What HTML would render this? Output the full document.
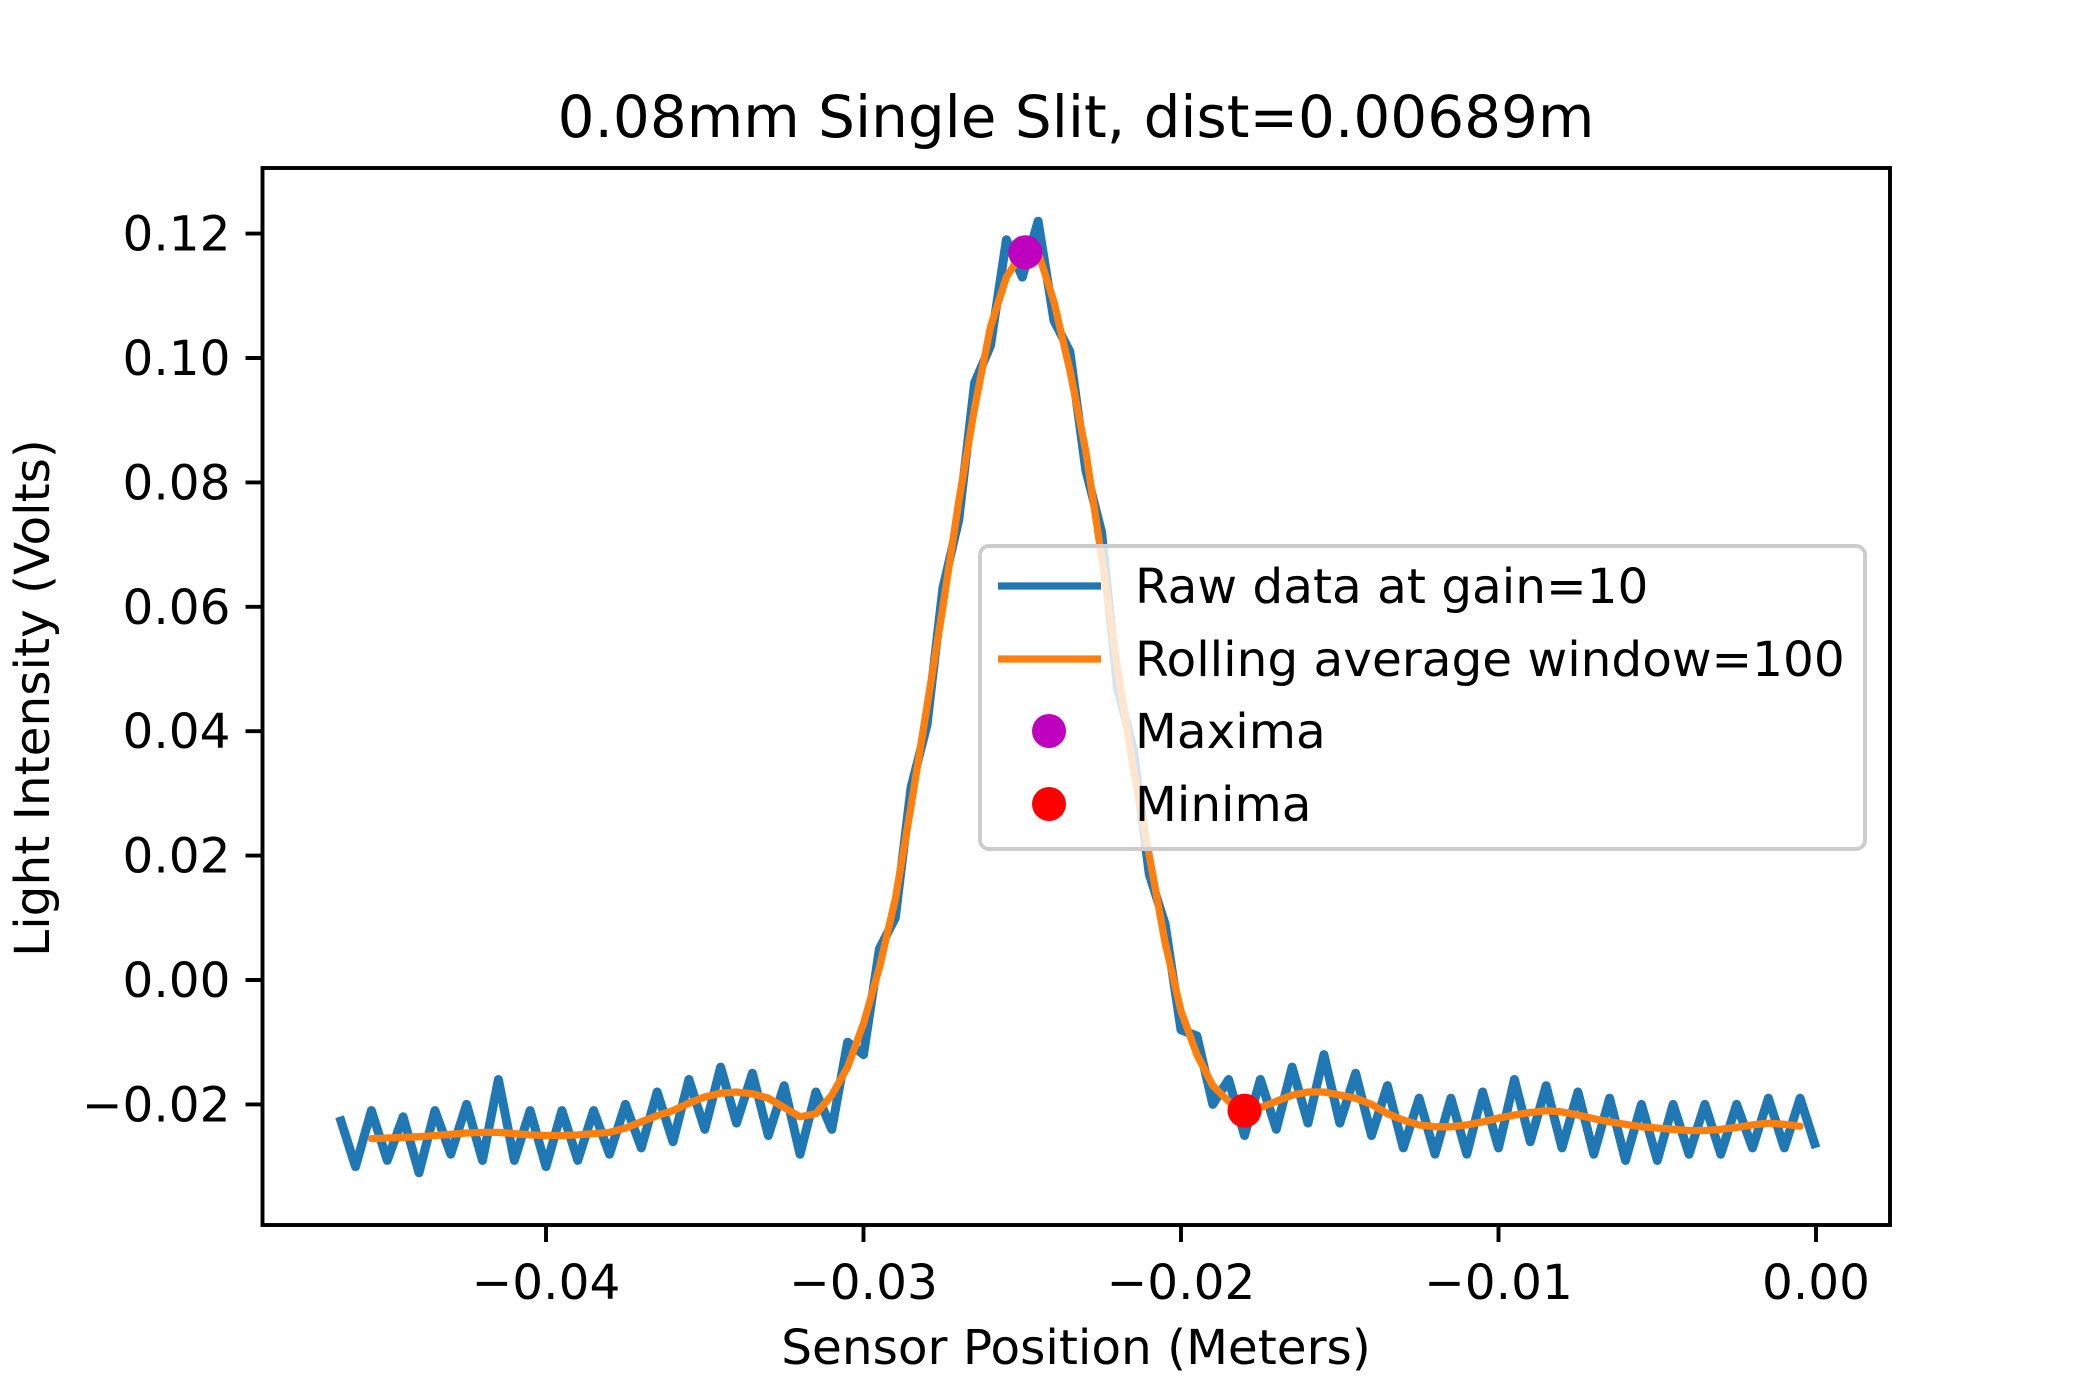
<!DOCTYPE html>
<html><head><meta charset="utf-8"><style>
html,body{margin:0;padding:0;background:#fff}
svg{display:block}
text{font-family:"DejaVu Sans","Liberation Sans",sans-serif;fill:#000}
</style></head><body>
<svg id="chart" width="2100" height="1400" viewBox="0 0 2100 1400">
<text x="1076" y="137" font-size="58" text-anchor="middle">0.08mm Single Slit, dist=0.00689m</text>
<g id="plot"></g>
<text x="1076" y="1364" font-size="48.5" text-anchor="middle">Sensor Position (Meters)</text>
<text transform="translate(49,698) rotate(-90)" font-size="48.5" text-anchor="middle">Light Intensity (Volts)</text>
</svg>
<script>
const xStart = -0.0465;
const xStep = 0.0005;
const rawVals = [-0.022,-0.030,-0.021,-0.029,-0.022,-0.031,-0.021,-0.028,-0.020,-0.029,-0.016,-0.029,-0.021,-0.030,-0.021,-0.029,-0.021,-0.028,-0.020,-0.027,-0.018,-0.026,-0.016,-0.024,-0.014,-0.023,-0.015,-0.025,-0.017,-0.028,-0.018,-0.024,-0.010,-0.012,0.005,0.010,0.031,0.041,0.063,0.074,0.096,0.102,0.119,0.113,0.122,0.106,0.101,0.082,0.072,0.047,0.037,0.017,0.009,-0.008,-0.009,-0.020,-0.016,-0.025,-0.016,-0.024,-0.014,-0.023,-0.012,-0.023,-0.015,-0.025,-0.017,-0.027,-0.019,-0.028,-0.019,-0.028,-0.018,-0.027,-0.016,-0.026,-0.017,-0.027,-0.018,-0.028,-0.019,-0.029,-0.020,-0.029,-0.020,-0.028,-0.020,-0.028,-0.020,-0.027,-0.019,-0.027,-0.019,-0.027];
const smoothVals = [null,null,-0.0255,-0.0254,-0.0253,-0.0252,-0.025,-0.0248,-0.0246,-0.0245,-0.0245,-0.0247,-0.0249,-0.025,-0.025,-0.0249,-0.0247,-0.0245,-0.0238,-0.0228,-0.0218,-0.021,-0.0198,-0.0188,-0.0182,-0.018,-0.0183,-0.019,-0.0205,-0.022,-0.0215,-0.0185,-0.014,-0.007,0.002,0.013,0.028,0.044,0.060,0.077,0.092,0.105,0.113,0.117,0.117,0.109,0.098,0.085,0.068,0.050,0.034,0.020,0.006,-0.005,-0.012,-0.017,-0.0195,-0.021,-0.0205,-0.0195,-0.0185,-0.018,-0.018,-0.0185,-0.019,-0.020,-0.0215,-0.0225,-0.0233,-0.0236,-0.0236,-0.0233,-0.0228,-0.0222,-0.0217,-0.0213,-0.021,-0.0212,-0.0217,-0.0223,-0.0228,-0.0232,-0.0236,-0.0238,-0.024,-0.0242,-0.0242,-0.024,-0.0237,-0.0233,-0.023,-0.0232,-0.0235,null];
const maxPoint = [-0.0249, 0.117];
const minPoint = [-0.0180, -0.021];
const xTicks = [-0.04,-0.03,-0.02,-0.01,0.00];
const xTickLabels = ["\u22120.04","\u22120.03","\u22120.02","\u22120.01","0.00"];
const yTicks = [-0.02,0.00,0.02,0.04,0.06,0.08,0.10,0.12];
const yTickLabels = ["\u22120.02","0.00","0.02","0.04","0.06","0.08","0.10","0.12"];

const L=262.5,R=1890,T=168,B=1225;
const sx = v => 1816 + v*31750;
const sy = v => 980 - v*6220;
const NS='http://www.w3.org/2000/svg';
const g=document.getElementById('plot');
function mk(tag,attrs,parent){const e=document.createElementNS(NS,tag);for(const k in attrs)e.setAttribute(k,attrs[k]);(parent||g).appendChild(e);return e;}

const defs=mk('clipPath',{id:'clip'});mk('rect',{x:L,y:T,width:R-L,height:B-T},defs);

let d='';rawVals.forEach((v,i)=>{d+=(i?'L':'M')+sx(xStart+i*xStep).toFixed(1)+','+sy(v).toFixed(1);});
const raw=mk('path',{d:d,fill:'none',stroke:'#1f77b4','stroke-width':9,'stroke-linejoin':'round','clip-path':'url(#clip)'});



let d2='',first=true;smoothVals.forEach((v,i)=>{if(v===null)return;d2+=(first?'M':'L')+sx(xStart+i*xStep).toFixed(1)+','+sy(v).toFixed(1);first=false;});
const sm=mk('path',{d:d2,fill:'none',stroke:'#ff7f0e','stroke-width':7.3,'stroke-linejoin':'round','stroke-linecap':'round'});



const mx=mk('circle',{cx:sx(maxPoint[0]),cy:sy(maxPoint[1]),r:17,fill:'#bf00bf'});


const mn=mk('circle',{cx:sx(minPoint[0]),cy:sy(minPoint[1]),r:17,fill:'#ff0000'});



const frame=mk('rect',{x:L,y:T,width:R-L,height:B-T,fill:'none',stroke:'#000','stroke-width':3.9});



xTicks.forEach((v,i)=>{
  const t=mk('line',{x1:sx(v),x2:sx(v),y1:B,y2:B+17,stroke:'#000','stroke-width':3.9});
  
  
  const lb=mk('text',{x:sx(v),y:1299,'font-size':48.5,'text-anchor':'middle'});
  lb.textContent=xTickLabels[i];
  
  
});
yTicks.forEach((v,i)=>{
  const t=mk('line',{x1:L-17,x2:L,y1:sy(v),y2:sy(v),stroke:'#000','stroke-width':3.9});
  
  
  const lb=mk('text',{x:L-32,y:sy(v)+17,'font-size':48.5,'text-anchor':'end'});
  lb.textContent=yTickLabels[i];
  
  
});

const leg=mk('g',{});


mk('rect',{x:980,y:546,width:885,height:303,rx:9,fill:'#fff','fill-opacity':0.8,stroke:'#cccccc','stroke-width':3.9},leg);
const entries=[['Raw data at gain=10','line','#1f77b4',586],['Rolling average window=100','line','#ff7f0e',659],['Maxima','dot','#bf00bf',731],['Minima','dot','#ff0000',804]];
entries.forEach(e=>{
  const eg=mk('g',{},leg);
  
  
  if(e[1]==='line')mk('line',{x1:998,x2:1101,y1:e[3],y2:e[3],stroke:e[2],'stroke-width':7.3},eg);
  else mk('circle',{cx:1049,cy:e[3],r:17,fill:e[2]},eg);
  const tx=mk('text',{x:1135,y:e[3]+17,'font-size':48.5},eg);
  tx.textContent=e[0];
});
</script>
</body></html>
